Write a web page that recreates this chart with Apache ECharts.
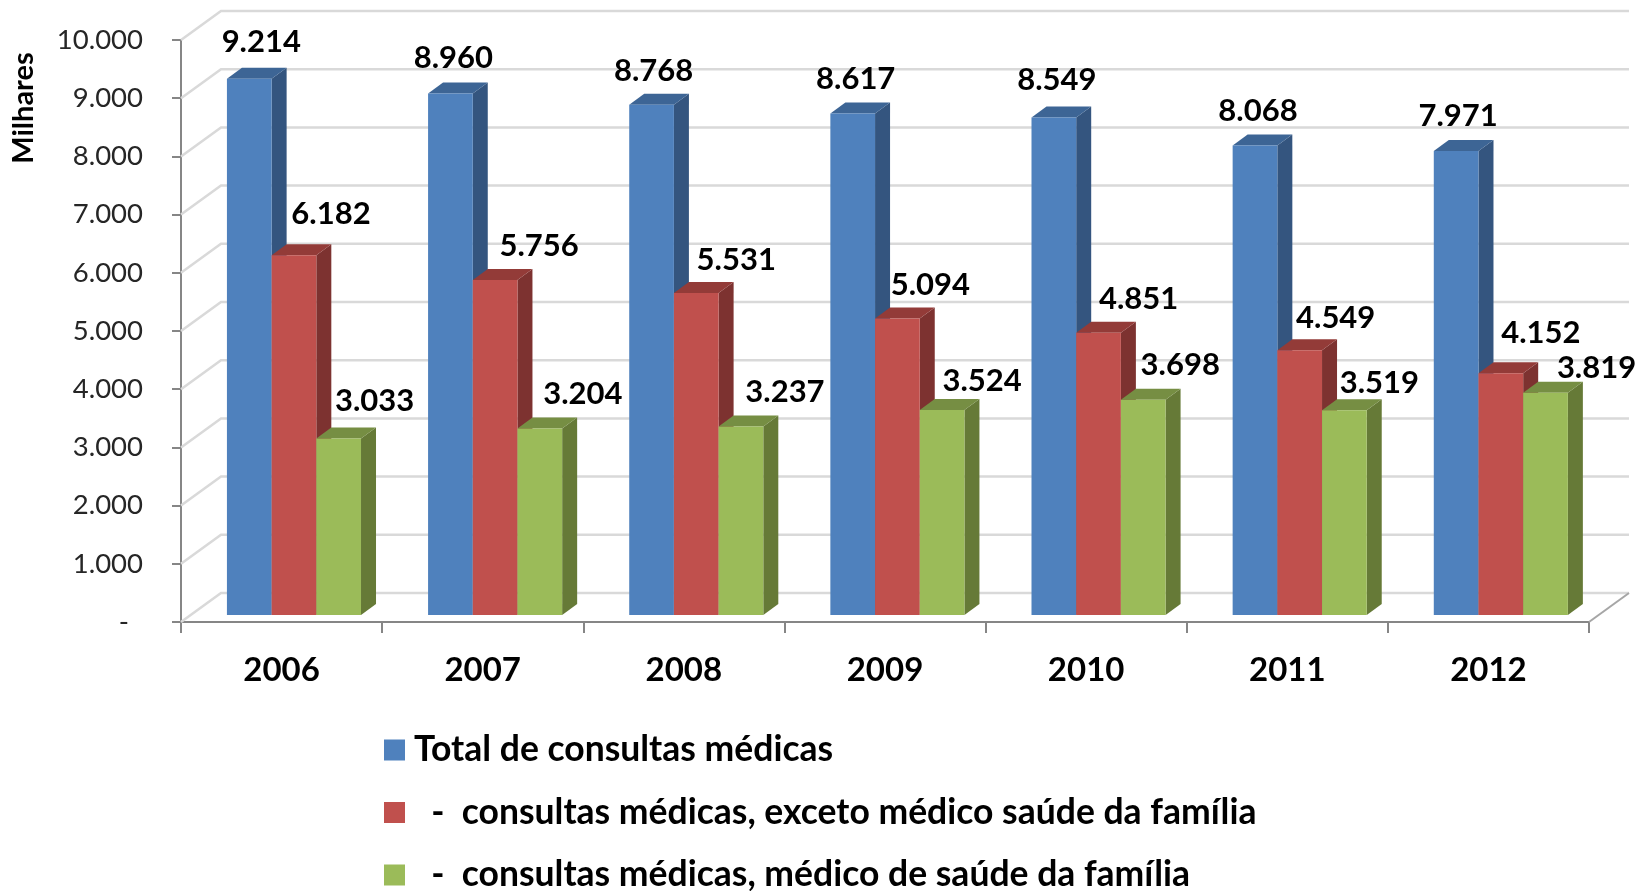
<!DOCTYPE html>
<html>
<head>
<meta charset="utf-8">
<title>Consultas médicas</title>
<script src="https://cdn.jsdelivr.net/npm/echarts@6/dist/echarts.min.js"></script>
<style>
html,body{margin:0;padding:0;background:#fff;}
#chart{width:1637px;height:891px;filter:blur(0.5px);}
</style>
</head>
<body>
<div id="chart"></div>
<script>
const categories = ['2006','2007','2008','2009','2010','2011','2012'];
const seriesNames = [
  'Total de consultas médicas',
  '  -  consultas médicas, exceto médico saúde da família',
  '  -  consultas médicas, médico de saúde da família'
];
const totalConsultas = [9214,8960,8768,8617,8549,8068,7971];
const excetoSaudeFamilia = [6182,5756,5531,5094,4851,4549,4152];
const medicoSaudeFamilia = [3033,3204,3237,3524,3698,3519,3819];
const yTicks = [0,1000,2000,3000,4000,5000,6000,7000,8000,9000,10000];
const yAxisTitle = 'Milhares';

// label nudges (px) from each bar's front-top centre, as placed in the original
const labelDxBlue  = [12,3,2,3,3,3,2];
const labelDyBlue  = [-37,-36,-34,-34,-37,-34,-35];
const labelDxRed   = [37,44,40,33,40,36,40];
const labelDyRed   = [-41,-34,-33,-34,-34,-32,-40];
const labelDxGreen = [36,43,44,40,37,35,51];
const labelDyGreen = [-37,-35,-35,-29,-35,-27,-25];

const FONT = 'Lato, "Open Sans", sans-serif';
const WALL_DX = 40, WALL_DY = -29;
const FRONT_DX = 12.4, FRONT_DY = -7;
const DEPTH_X = 15, DEPTH_Y = -11;
const BAR_RATIO = 0.2222;

const fmt = v => v === 0 ? '-  ' : String(v).replace(/\B(?=(\d{3})+$)/g, '.');

function wallItem(params, api) {
  const v = api.value(0);
  const cs = params.coordSys;
  const y = api.coord([0, v])[1];
  const x0 = cs.x, x1 = cs.x + cs.width;
  const children = [{
    type: 'polyline',
    shape: { points: [[x0, y], [x0 + WALL_DX, y + WALL_DY], [x1 + WALL_DX, y + WALL_DY]] },
    style: { stroke: '#d9d9d9', lineWidth: 2.5, fill: null }
  }];
  if (v === 0) {
    children.push({
      type: 'line',
      shape: { x1: x1, y1: y, x2: x1 + WALL_DX, y2: y + WALL_DY },
      style: { stroke: '#a6a6a6', lineWidth: 2 }
    });
  }
  return { type: 'group', children };
}

function barRenderer(slot, front, side, top, dxs, dys) {
  return function (params, api) {
    const i = api.value(0), v = api.value(1);
    const base = api.coord([i, 0]);
    const head = api.coord([i, v]);
    const bw = api.size([1, 0])[0] * BAR_RATIO;
    const xl = base[0] + FRONT_DX + (slot - 1.5) * bw;
    const xr = xl + bw;
    const yb = base[1] + FRONT_DY;
    const yt = head[1] + FRONT_DY;
    return {
      type: 'group',
      children: [
        { type: 'polygon', shape: { points: [[xr, yt], [xr + DEPTH_X, yt + DEPTH_Y], [xr + DEPTH_X, yb + DEPTH_Y], [xr, yb]] }, style: { fill: side } },
        { type: 'polygon', shape: { points: [[xl, yt], [xl + DEPTH_X, yt + DEPTH_Y], [xr + DEPTH_X, yt + DEPTH_Y], [xr, yt]] }, style: { fill: top } },
        { type: 'rect', shape: { x: xl, y: yt, width: bw, height: yb - yt }, style: { fill: front } },
        { type: 'text', z2: 100, style: {
            x: (xl + xr) / 2 + dxs[i], y: yt + dys[i], text: fmt(v), align: 'center', verticalAlign: 'middle',
            fill: '#000', font: 'bold 31px ' + FONT
        } }
      ]
    };
  };
}

const mkBar = (idx, values, front, side, top, dxs, dys) => ({
  type: 'custom',
  name: seriesNames[idx],
  coordinateSystem: 'cartesian2d',
  itemStyle: { color: front },
  encode: { x: 0, y: 1 },
  data: values.map((v, i) => [i, v]),
  renderItem: barRenderer(idx, front, side, top, dxs, dys),
  z: 3 + idx
});

const chart = echarts.init(document.getElementById('chart'), null, { renderer: 'canvas' });
chart.setOption({
  animation: false,
  backgroundColor: '#fff',
  textStyle: { fontFamily: FONT },
  grid: { left: 181, right: 48, top: 40, bottom: 269, containLabel: false },
  legend: {
    data: seriesNames,
    orient: 'vertical',
    left: 384,
    top: 732,
    height: 300,
    padding: 0,
    itemWidth: 21,
    itemHeight: 21,
    itemGap: 26.5,
    icon: 'rect',
    textStyle: { color: '#000', fontWeight: 'bold', fontSize: 35.5, fontFamily: FONT, padding: [0, 0, 0, 4] },
    selectedMode: false
  },
  xAxis: {
    type: 'category',
    data: categories,
    boundaryGap: true,
    axisLine: { lineStyle: { color: '#868686', width: 2 } },
    axisTick: { show: true, length: 11, alignWithLabel: false, lineStyle: { color: '#868686', width: 2 } },
    axisLabel: { color: '#000', fontWeight: 'bold', fontSize: 33, fontFamily: FONT, margin: 32 },
    splitLine: { show: false }
  },
  yAxis: {
    type: 'value',
    min: 0,
    max: 10000,
    interval: 1000,
    axisLine: { show: true, lineStyle: { color: '#868686', width: 2 } },
    axisTick: { show: true, length: 9, lineStyle: { color: '#868686', width: 2 } },
    axisLabel: { color: '#262626', fontSize: 27.5, fontFamily: FONT, margin: 38, formatter: fmt, padding: [6, 0, 0, 0], alignMaxLabel: 'right', alignMinLabel: 'right' },
    splitLine: { show: false }
  },
  graphic: [{
    type: 'text',
    x: 24, y: 108, rotation: Math.PI / 2,
    style: { text: yAxisTitle, align: 'center', verticalAlign: 'middle', fill: '#000', font: 'bold 29px ' + FONT }
  }],
  series: [
    { type: 'custom', coordinateSystem: 'cartesian2d', encode: { y: 0 }, data: yTicks.map(v => [v]), renderItem: wallItem, z: 1, silent: true },
    mkBar(0, totalConsultas, '#4F81BD', '#34557F', '#3D6595', labelDxBlue, labelDyBlue),
    mkBar(1, excetoSaudeFamilia, '#C0504D', '#7D3230', '#933B38', labelDxRed, labelDyRed),
    mkBar(2, medicoSaudeFamilia, '#9BBB59', '#667A37', '#768E43', labelDxGreen, labelDyGreen)
  ]
});
</script>
</body>
</html>
